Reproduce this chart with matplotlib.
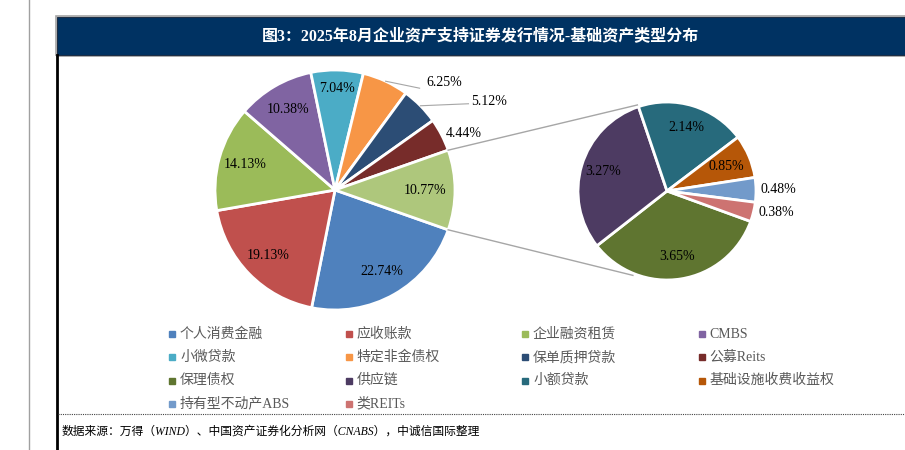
import numpy as np
import matplotlib.pyplot as plt
from matplotlib.patches import Rectangle

plt.rcParams['font.family'] = ['Liberation Serif', 'Noto Sans CJK SC', 'DejaVu Sans']

title = '图3：2025年8月企业资产支持证券发行情况-基础资产类型分布'
source = '数据来源：万得（WIND）、中国资产证券化分析网（CNABS），中诚信国际整理'

# main pie (clockwise from the "other" slice)
main_names = ['个人消费金融', '应收账款', '企业融资租赁', 'CMBS', '小微贷款',
              '特定非金债权', '保单质押贷款', '公募Reits']
main_values = [22.74, 19.13, 14.13, 10.38, 7.04, 6.25, 5.12, 4.44]
main_colors = ['#4F81BD', '#C0504D', '#9BBB59', '#8064A2', '#4BACC6',
               '#F79646', '#2C4D75', '#772C2A']

# secondary pie
sub_names = ['保理债权', '供应链', '小额贷款', '基础设施收费收益权',
             '持有型不动产ABS', '类REITs']
sub_values = [3.65, 3.27, 2.14, 0.85, 0.48, 0.38]
sub_colors = ['#5F7530', '#4D3B62', '#276A7C', '#B65708', '#729ACA', '#CD7371']
other_color = '#AEC77C'

other_value = round(sum(sub_values), 2)

W, H = 905, 450
fig = plt.figure(figsize=(W / 100, H / 100), dpi=100)
ax = fig.add_axes([0, 0, 1, 1])


def Y(y):
    return H - y


# frame
ax.plot([29, 29], [0, H], color='#A0A0A0', lw=1)
ax.plot([57, 57], [0, Y(55)], color='black', lw=2)
ax.add_patch(Rectangle((56, Y(56)), 860, 40, facecolor='none',
                       edgecolor='#A6A6A6', lw=1.2))
ax.add_patch(Rectangle((57, Y(55)), 860, 38, facecolor='#003262',
                       edgecolor='#1F2F45', lw=0.8))
ax.text(480, Y(36), title, color='white', fontsize=11.5, fontweight='bold',
        ha='center', va='center')
ax.plot([58, W], [Y(414), Y(414)], color='#444444', lw=0.8, ls=(0, (1, 1)))
ax.text(62, Y(432), source, fontsize=8.5, style='italic', ha='left',
        va='center', color='black')

# main pie
c1 = (335, Y(190))
r1 = 120
half = other_value * 3.6 / 2
vals1 = main_values + [other_value]
cols1 = main_colors + [other_color]
w1, _ = ax.pie(vals1, colors=cols1, center=c1, radius=r1,
               startangle=-half, counterclock=False,
               wedgeprops=dict(edgecolor='white', linewidth=2))

# secondary pie
c2 = (667, Y(191))
r2 = 89
w2, _ = ax.pie(sub_values, colors=sub_colors, center=c2, radius=r2,
               startangle=-20, counterclock=False,
               wedgeprops=dict(edgecolor='white', linewidth=2))


def mid(w):
    return np.deg2rad((w.theta1 + w.theta2) / 2)


def pt(c, r, a):
    return c[0] + r * np.cos(a), c[1] + r * np.sin(a)


lbl = dict(fontsize=10, color='black')

# main labels
for i, w in enumerate(w1):
    v = vals1[i]
    a = mid(w)
    if i < 5 or i == len(w1) - 1:
        f = 0.85 if i == 4 else (0.75 if i == len(w1) - 1 else 0.78)
        x, y = pt(c1, r1 * f, a)
        ax.text(x, y, f'{v:.2f}%', ha='center', va='center', **lbl)
    elif i == 5:
        x0, y0 = pt(c1, r1, a)
        ax.plot([x0, x0 + 34], [y0, y0 - 7], color='#A6A6A6', lw=0.8)
        ax.text(x0 + 41, y0 - 1, f'{v:.2f}%', ha='left', va='center', **lbl)
    elif i == 6:
        x0, y0 = pt(c1, r1, a)
        ax.plot([x0, x0 + 48], [y0, y0 + 2], color='#A6A6A6', lw=0.8)
        ax.text(x0 + 51, y0 + 4, f'{v:.2f}%', ha='left', va='center', **lbl)
    else:
        x0, y0 = pt(c1, r1, a)
        ax.text(x0 + 4, y0 + 1, f'{v:.2f}%', ha='left', va='center', **lbl)

# secondary labels
for i, w in enumerate(w2):
    v = sub_values[i]
    a = mid(w)
    if i < 4:
        f = 0.72 if i == 3 else 0.75
        x, y = pt(c2, r2 * f, a)
        ax.text(x, y, f'{v:.2f}%', ha='center', va='center', **lbl)
    else:
        x0, y0 = pt(c2, r2, a)
        ax.text(x0 + 5, y0, f'{v:.2f}%', ha='left', va='center', **lbl)

# connector lines
for ang_main, ang_sub in [(half, 109), (-half, -112)]:
    xa, ya = pt(c1, r1, np.deg2rad(ang_main))
    xb, yb = pt(c2, r2 + 2, np.deg2rad(ang_sub))
    ax.plot([xa, xb], [ya, yb], color='#A6A6A6', lw=1)

# legend
leg_names = main_names + sub_names
leg_colors = main_colors + sub_colors
for i, (n, c) in enumerate(zip(leg_names, leg_colors)):
    row, col = divmod(i, 4)
    x = 172 + col * 176.5
    y = Y(334 + row * 23.3)
    ax.plot(x, y, marker='s', ms=4, color=c, mec=c)
    ax.text(x + 8, y, n, fontsize=10, color='#595959', ha='left',
            va='center')

ax.set_xlim(0, W)
ax.set_ylim(0, H)
ax.set_aspect('equal')
ax.axis('off')

fig.savefig('out.png', dpi=100)
